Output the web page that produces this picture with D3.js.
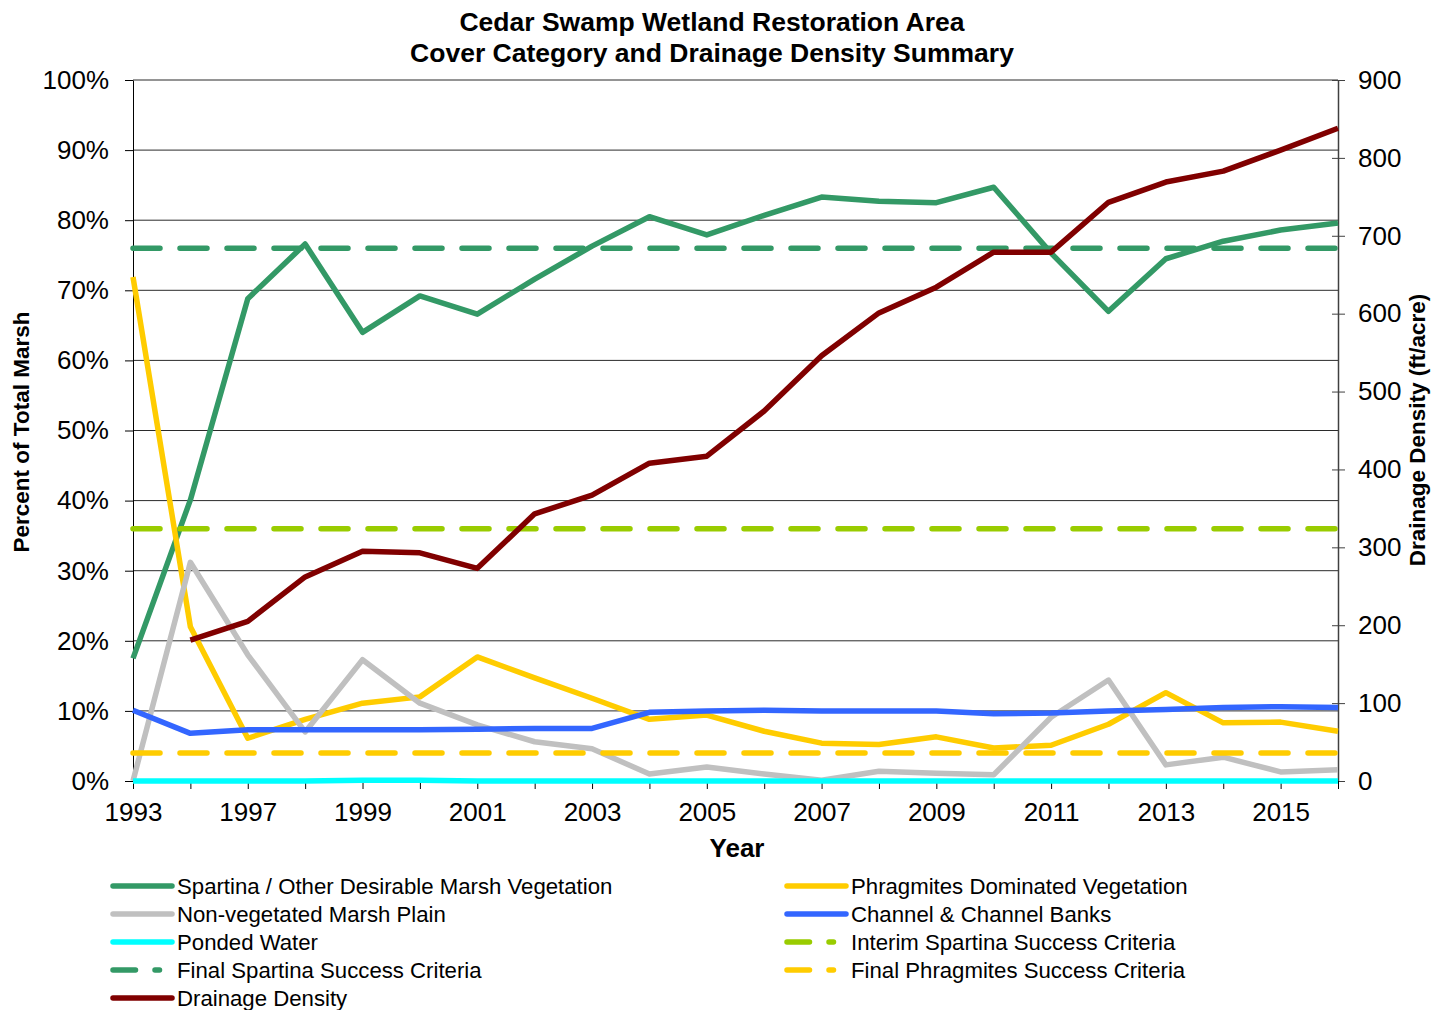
<!DOCTYPE html>
<html><head><meta charset="utf-8">
<script src="https://cdn.jsdelivr.net/npm/d3@7"></script>
<style>body{margin:0;background:#fff;} svg{display:block;font-family:"Liberation Sans",Arial,sans-serif;}</style>
</head><body>
<svg id="chart" width="1441" height="1010"></svg>
<script>
const years = ["1993","1995","1997","1998","1999","2000","2001","2002","2003","2004","2005","2006","2007","2008","2009","2010","2011","2012","2013","2014","2015","2016"];
const xTickLabels = ["1993","1997","1999","2001","2003","2005","2007","2009","2011","2013","2015"];
const leftTicks = [0,10,20,30,40,50,60,70,80,90,100];
const rightTicks = [0,100,200,300,400,500,600,700,800,900];
const spartina = [17.5,40.1,68.8,76.6,64.0,69.2,66.6,71.6,76.3,80.5,77.9,80.7,83.3,82.7,82.5,84.7,75.3,67.0,74.5,77.0,78.6,79.6];
const phragmites = [71.9,22.0,6.1,8.8,11.1,12.0,17.7,14.7,11.8,8.8,9.4,7.1,5.4,5.2,6.3,4.7,5.1,8.1,12.6,8.3,8.4,7.1];
const nonVeg = [0,31.2,18.0,7.0,17.3,11.1,8.0,5.6,4.6,1.0,2.0,1.0,0.1,1.4,1.1,0.9,9.1,14.4,2.3,3.4,1.3,1.6];
const channel = [10.1,6.8,7.3,7.3,7.3,7.3,7.4,7.5,7.5,9.8,10.0,10.1,10.0,10.0,10.0,9.6,9.7,10.0,10.2,10.5,10.6,10.5];
const ponded = [0,0,0,0,0.1,0.1,0,0,0,0,0,0,0,0,0,0,0,0,0,0,0,0];
const interimSpartina = years.map(() => 36);
const finalSpartina = years.map(() => 76);
const finalPhragmites = years.map(() => 4);
const drainage = [null,181,205,262,295,293,273,343,367,408,417,475,546,601,634,679,679,743,769,783,810,838];
const seriesNames = ["Spartina / Other Desirable Marsh Vegetation","Phragmites Dominated Vegetation","Non-vegetated Marsh Plain","Channel & Channel Banks","Ponded Water","Interim Spartina Success Criteria","Final Spartina Success Criteria","Final Phragmites Success Criteria","Drainage Density"];

const series = [
  {name:seriesNames[0], data:spartina, color:"#339966", dash:null, axis:"L"},
  {name:seriesNames[1], data:phragmites, color:"#FFCC00", dash:null, axis:"L"},
  {name:seriesNames[2], data:nonVeg, color:"#C0C0C0", dash:null, axis:"L"},
  {name:seriesNames[3], data:channel, color:"#3366FF", dash:null, axis:"L"},
  {name:seriesNames[4], data:ponded, color:"#00FFFF", dash:null, axis:"L"},
  {name:seriesNames[5], data:interimSpartina, color:"#99CC00", dash:true, axis:"L"},
  {name:seriesNames[6], data:finalSpartina, color:"#339966", dash:true, axis:"L"},
  {name:seriesNames[7], data:finalPhragmites, color:"#FFCC00", dash:true, axis:"L"},
  {name:seriesNames[8], data:drainage, color:"#800000", dash:null, axis:"R"}
];

const svg = d3.select("#chart");
const L = 133, R = 1338, T = 80, B = 781;
const x = d3.scalePoint().domain(years).range([L, R]);
const yL = d3.scaleLinear().domain([0,100]).range([B, T]);
const yR = d3.scaleLinear().domain([0,900]).range([B, T]);
const FONT = "Liberation Sans, Arial, sans-serif";

// gridlines
svg.append("g").selectAll("line").data(leftTicks.filter(d=>d>0)).join("line")
  .attr("x1", L).attr("x2", R).attr("y1", d=>yL(d)).attr("y2", d=>yL(d))
  .attr("stroke", "#2b2b2b").attr("stroke-width", 1);

// left axis
const gL = svg.append("g").attr("transform", `translate(${L},0)`)
  .call(d3.axisLeft(yL).tickValues(leftTicks).tickFormat(d=>d+"%").tickSize(8).tickSizeOuter(0).tickPadding(16));
gL.select(".domain").attr("stroke","#000");
gL.selectAll(".tick line").attr("stroke","#000");
gL.selectAll("text").attr("font-size", 26).attr("fill","#000").attr("font-family",FONT);

// right axis
const gR = svg.append("g").attr("transform", `translate(${R},0)`)
  .call(d3.axisRight(yR).tickValues(rightTicks).tickSize(7).tickSizeOuter(0).tickPadding(13));
gR.select(".domain").attr("stroke","#404040").attr("stroke-width",1.5);
gR.selectAll(".tick line").attr("stroke","#404040").attr("x1",-6);
gR.selectAll("text").attr("font-size", 26).attr("fill","#000").attr("font-family",FONT);

// x axis
const gX = svg.append("g").attr("transform", `translate(0,${B})`)
  .call(d3.axisBottom(x).tickSize(8).tickSizeOuter(0).tickPadding(14)
    .tickFormat(d => xTickLabels.includes(d) ? d : ""));
gX.select(".domain").attr("stroke","#000");
gX.selectAll(".tick line").attr("stroke","#000");
gX.selectAll("text").attr("font-size", 26).attr("fill","#000").attr("font-family",FONT);

// lines
series.forEach(s => {
  const ys = s.axis === "L" ? yL : yR;
  const line = d3.line().defined(d => d != null).x((d,i)=>x(years[i])).y(d=>ys(d));
  svg.append("path").datum(s.data)
    .attr("d", line)
    .attr("fill","none").attr("stroke", s.color).attr("stroke-width", 5.5)
    .attr("stroke-linejoin","round")
    .attr("stroke-linecap", s.dash ? "round" : "butt")
    .attr("stroke-dasharray", s.dash ? "27,20" : null);
});

// titles
svg.append("text").attr("x", 712).attr("y", 31).attr("text-anchor","middle")
  .attr("font-size", 26.5).attr("font-weight","bold").text("Cedar Swamp Wetland Restoration Area");
svg.append("text").attr("x", 712).attr("y", 62).attr("text-anchor","middle")
  .attr("font-size", 26.5).attr("font-weight","bold").text("Cover Category and Drainage Density Summary");
svg.append("text").attr("x", 737).attr("y", 857).attr("text-anchor","middle")
  .attr("font-size", 26).attr("font-weight","bold").text("Year");
svg.append("text").attr("transform","translate(29,432) rotate(-90)").attr("text-anchor","middle")
  .attr("font-size", 22.5).attr("font-weight","bold").text("Percent of Total Marsh");
svg.append("text").attr("transform","translate(1425,430) rotate(-90)").attr("text-anchor","middle")
  .attr("font-size", 22.5).attr("font-weight","bold").text("Drainage Density (ft/acre)");

// legend
const leg = svg.append("g");
series.forEach((s, i) => {
  const col = i % 2, row = Math.floor(i / 2);
  const lx = col === 0 ? 113 : 787;
  const ly = 886 + row * 28;
  leg.append("line").attr("x1", lx).attr("x2", lx + 59).attr("y1", ly).attr("y2", ly)
    .attr("stroke", s.color).attr("stroke-width", 5.5).attr("stroke-linecap","round")
    .attr("stroke-dasharray", s.dash ? "22.5,19.5,4.5,60" : null);
  leg.append("text").attr("x", lx + 64).attr("y", ly).attr("dy","0.35em")
    .attr("font-size", 22.2).attr("fill","#000").text(s.name);
});
</script>
</body></html>
